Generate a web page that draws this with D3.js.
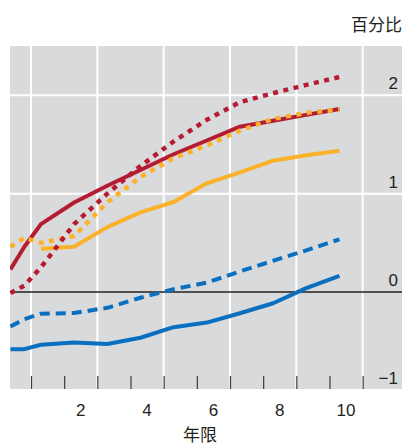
<!DOCTYPE html>
<html lang="zh">
<head>
<meta charset="UTF-8">
<title>Yield curve chart</title>
<script src="https://cdn.jsdelivr.net/npm/d3@7"></script>
<style>
  body { margin: 0; background: #fff; }
  svg { display: block; }
  text { font-family: "Liberation Sans", Arial, sans-serif; fill: #231f20; }
  .cjk { font-family: "Noto Sans CJK SC", sans-serif; }
</style>
</head>
<body>
<div id="chart"></div>
<script>
// maturities in years, one value per series at each maturity
const maturity     = [0.08, 0.5, 1, 2, 3, 4, 5, 6, 7, 8, 9, 10];
const redSolid     = [0.23, 0.46, 0.69, 0.91, 1.08, 1.24, 1.40, 1.54, 1.68, 1.74, 1.80, 1.86];
const redDotted    = [-0.01, 0.065, 0.25, 0.69, 1.00, 1.28, 1.53, 1.75, 1.93, 2.02, 2.105, 2.185];
const orangeSolid  = [null, null, 0.44, 0.46, 0.66, 0.81, 0.915, 1.105, 1.215, 1.335, 1.39, 1.435];
const orangeDotted = [0.46, 0.55, 0.50, 0.57, 0.91, 1.17, 1.36, 1.49, 1.64, 1.76, 1.82, 1.855];
const blueSolid    = [-0.58, -0.58, -0.535, -0.512, -0.527, -0.464, -0.357, -0.31, -0.215, -0.114, 0.04, 0.165];
const blueDashed   = [-0.35, -0.276, -0.22, -0.213, -0.16, -0.058, 0.03, 0.095, 0.21, 0.318, 0.424, 0.536];

const xTickMarks = d3.range(0.7, 10.8, 1);     // tick marks between year bands
const xGrid = [0.7, 2.7, 4.7, 6.7, 8.7, 10.7];
const xLabels = [2, 4, 6, 8, 10];
const yTicks = [2, 1, 0, -1];
const yGrid = [2, 1];

const W = 404, H = 447;
const plot = { left: 10, right: 402, top: 46, bottom: 389 };

const x = d3.scaleLinear().domain([0.067, 11.886]).range([plot.left, plot.right]);
const y = d3.scaleLinear().domain([-0.985, 2.5]).range([plot.bottom, plot.top]);

const svg = d3.select("#chart").append("svg")
    .attr("width", W)
    .attr("height", H);

svg.append("defs").append("clipPath").attr("id", "plotClip")
  .append("rect")
    .attr("x", plot.left).attr("y", plot.top)
    .attr("width", plot.right - plot.left)
    .attr("height", plot.bottom - plot.top);

// background
svg.append("rect")
    .attr("x", plot.left).attr("y", plot.top)
    .attr("width", plot.right - plot.left)
    .attr("height", plot.bottom - plot.top)
    .attr("fill", "#d9dadc");

// grid
svg.append("g").selectAll("line").data(xGrid).join("line")
    .attr("x1", d => x(d)).attr("x2", d => x(d))
    .attr("y1", plot.top).attr("y2", plot.bottom)
    .attr("stroke", "#fff").attr("stroke-width", 2);

svg.append("g").selectAll("line").data(yGrid).join("line")
    .attr("x1", plot.left).attr("x2", plot.right)
    .attr("y1", d => y(d)).attr("y2", d => y(d))
    .attr("stroke", "#fff").attr("stroke-width", 2);

// zero line
svg.append("line")
    .attr("x1", plot.left).attr("x2", plot.right)
    .attr("y1", y(0)).attr("y2", y(0))
    .attr("stroke", "#231f20").attr("stroke-width", 1.5);

// series
const series = [
  { values: orangeSolid,  color: "#fbb12a", dash: null },
  { values: blueSolid,    color: "#0a6fbf", dash: null },
  { values: blueDashed,   color: "#0a6fbf", dash: "10,6" },
  { values: redSolid,     color: "#b51c33", dash: null },
  { values: orangeDotted, color: "#fbb12a", dash: "5,5.5" },
  { values: redDotted,    color: "#b51c33", dash: "5,5.5" }
];

const line = d3.line()
    .defined(d => d[1] != null)
    .x(d => x(d[0]))
    .y(d => y(d[1]));

const lines = svg.append("g").attr("clip-path", "url(#plotClip)");
series.forEach(s => {
  lines.append("path")
      .datum(maturity.map((m, i) => [m, s.values[i]]))
      .attr("d", line)
      .attr("fill", "none")
      .attr("stroke", s.color)
      .attr("stroke-width", s.dash && s.dash.startsWith("5") ? 4.5 : 4)
      .attr("stroke-dasharray", s.dash)
      .attr("stroke-linejoin", "round");
});

// x tick marks inside the bottom of the plot
const xAxis = svg.append("g")
    .attr("transform", `translate(0,${plot.bottom})`)
    .call(d3.axisBottom(x).tickValues(xTickMarks).tickSize(-13).tickFormat(""));
xAxis.select(".domain").remove();
xAxis.selectAll(".tick line").attr("stroke", "#3a3a3a").attr("stroke-width", 1.2);

// x labels, centred between tick marks
const labelOffset = 0.2;
svg.append("g").selectAll("text").data(xLabels).join("text")
    .attr("x", d => x(d + labelOffset))
    .attr("y", 416)
    .attr("text-anchor", "middle")
    .attr("font-size", "17px")
    .text(d => d);

// y labels on the right, sitting above their gridline
svg.append("g").selectAll("text").data(yTicks).join("text")
    .attr("x", 398)
    .attr("y", d => y(d) - 6)
    .attr("text-anchor", "end")
    .attr("font-size", "17px")
    .text(d => d < 0 ? "\u2212" + Math.abs(d) : d);

svg.append("text")
    .attr("class", "cjk")
    .attr("x", 402).attr("y", 31)
    .attr("text-anchor", "end")
    .attr("font-size", "17px")
    .text("百分比");

svg.append("text")
    .attr("class", "cjk")
    .attr("x", 200).attr("y", 441)
    .attr("text-anchor", "middle")
    .attr("font-size", "17px")
    .text("年限");
</script>
</body>
</html>
